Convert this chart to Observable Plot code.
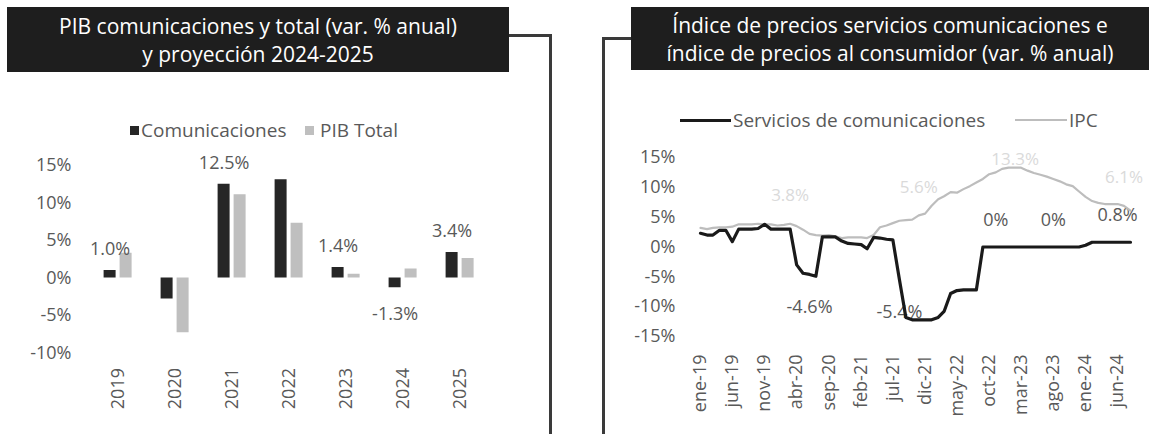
<!DOCTYPE html>
<html><head><meta charset="utf-8">
<script src="https://cdn.jsdelivr.net/npm/d3@7"></script>
<script src="https://cdn.jsdelivr.net/npm/@observablehq/plot@0.6"></script>
<style>
body{margin:0;background:#fff;font-family:"Open Sans",sans-serif;}
#root{position:relative;width:1149px;height:434px;overflow:hidden;background:#fff;}
.abs{position:absolute;}
.title{background:#1e1e1e;color:#fff;font-size:21px;line-height:28px;text-align:center;display:flex;flex-direction:column;justify-content:center;white-space:nowrap;}
.leg{position:absolute;color:#595959;font-size:19px;line-height:22px;white-space:nowrap;}
.sq{position:absolute;width:9px;height:9px;}
.ln{position:absolute;}
</style></head><body><div id="root"></div>
<script>
// ---------- Data: left chart ----------
const years = ["2019","2020","2021","2022","2023","2024","2025"];
const series = ["Comunicaciones","PIB Total"];
const comunicaciones = [1.0, -2.8, 12.5, 13.1, 1.4, -1.3, 3.4];
const pibTotal = [3.3, -7.3, 11.1, 7.3, 0.5, 1.2, 2.6];
const labeledYears = ["2019","2021","2023","2024","2025"];
const yTicksLeft = [-10, -5, 0, 5, 10, 15];

// ---------- Data: right chart ----------
const lineSeries = ["Servicios de comunicaciones","IPC"];
const servicios = [2.3, 2.0, 2.0, 2.8, 2.8, 0.9, 3.0, 3.0, 3.0, 3.1, 3.8, 3.0,
  3.0, 3.0, 3.0, -3.0, -4.4, -4.6, -4.9, 1.7, 1.7, 1.7, 1.0, 0.6,
  0.5, 0.4, -0.3, 1.6, 1.5, 1.3, 1.2, -5.4, -11.8, -12.2, -12.2, -12.2,
  -12.2, -11.8, -10.8, -7.8, -7.3, -7.2, -7.2, -7.2, 0, 0, 0, 0,
  0, 0, 0, 0, 0, 0, 0, 0, 0, 0, 0, 0,
  0.3, 0.8, 0.8, 0.8, 0.8, 0.8, 0.8, 0.8];
const ipc = [3.2, 3.0, 3.2, 3.3, 3.3, 3.4, 3.8, 3.8, 3.8, 3.9, 3.8, 3.8,
  3.6, 3.7, 3.9, 3.5, 2.9, 2.2, 2.0, 1.9, 2.0, 1.8, 1.5, 1.6,
  1.6, 1.6, 1.5, 2.0, 3.3, 3.6, 4.0, 4.4, 4.5, 4.6, 5.3, 5.6,
  6.9, 8.0, 8.5, 9.2, 9.1, 9.7, 10.2, 10.8, 11.4, 12.2, 12.5, 13.1,
  13.3, 13.3, 13.3, 12.8, 12.4, 12.1, 11.8, 11.4, 11.0, 10.5, 10.2, 9.3,
  8.4, 7.7, 7.4, 7.2, 7.2, 7.2, 6.9, 6.1];
const firstMonth = "ene-19";
const xTickLabels = ["ene-19","jun-19","nov-19","abr-20","sep-20","feb-21","jul-21","dic-21","may-22","oct-22","mar-23","ago-23","ene-24","jun-24"];
const yTicksRight = [-15, -10, -5, 0, 5, 10, 15];
const commLabelMonths = ["jun-20","ago-21","nov-22","ago-23","jun-24"];
const commLabelTexts = ["-4.6%","-5.4%","0%","0%","0.8%"];
const ipcLabelMonths = ["mar-20","nov-21","feb-23","jul-24"];
const ipcLabelTexts = ["3.8%","5.6%","13.3%","6.1%"];

const meses = ["ene","feb","mar","abr","may","jun","jul","ago","sep","oct","nov","dic"];
function parseMes(s){ const [m,y] = s.split("-"); return new Date(Date.UTC(2000+ +y, meses.indexOf(m), 1)); }
function fmtMes(d){ return meses[d.getUTCMonth()] + "-" + String(d.getUTCFullYear()).slice(2); }

const root = document.getElementById("root");
function add(html){ root.insertAdjacentHTML("beforeend", html); }

// ---------- Frames and titles ----------
add(`<div class="abs" style="left:509px;top:34px;width:40px;height:420px;border-top:3px solid #3a3a3a;border-right:3px solid #3a3a3a;"></div>`);
add(`<div class="abs" style="left:602px;top:37px;width:29px;height:420px;border-top:3px solid #3a3a3a;border-left:3px solid #3a3a3a;"></div>`);
add(`<div class="abs title" style="left:7px;top:7px;width:502px;height:65px;"><div>PIB comunicaciones y total (var. % anual)</div><div>y proyección 2024-2025</div></div>`);
add(`<div class="abs title" style="left:631px;top:7px;width:518px;height:63px;"><div>Índice de precios servicios comunicaciones e</div><div>índice de precios al consumidor (var. % anual)</div></div>`);

// ---------- Left legend ----------
add(`<div class="sq" style="left:130px;top:126px;background:#262626"></div>`);
add(`<div class="leg" style="left:141px;top:119px;">${series[0]}</div>`);
add(`<div class="sq" style="left:305px;top:126px;background:#bfbfbf"></div>`);
add(`<div class="leg" style="left:320px;top:119px;">${series[1]}</div>`);

// ---------- Right legend ----------
add(`<div class="ln" style="left:680px;top:119px;width:51px;height:3px;background:#1a1a1a"></div>`);
add(`<div class="leg" style="left:733px;top:109px;">${lineSeries[0]}</div>`);
add(`<div class="ln" style="left:1015px;top:119px;width:52px;height:2px;background:#bdbdbd"></div>`);
add(`<div class="leg" style="left:1069px;top:109px;">${lineSeries[1]}</div>`);

// ---------- Left chart ----------
const barData = years.flatMap((yr, i) => [
  {year: yr, serie: series[0], value: comunicaciones[i]},
  {year: yr, serie: series[1], value: pibTotal[i]}
]);
const labPos = barData.filter(d => d.serie === series[0] && labeledYears.includes(d.year) && d.value >= 0);
const labNeg = barData.filter(d => d.serie === series[0] && labeledYears.includes(d.year) && d.value < 0);
const W1 = 520;
const left = Plot.plot({
  width: W1, height: 268,
  marginTop: 15, marginBottom: 65.5, marginLeft: 75.4, marginRight: W1 - 502,
  style: {fontFamily: "Open Sans", fontSize: "17px", color: "#595959", background: "transparent", overflow: "visible"},
  fx: {domain: years, paddingInner: 0.475, paddingOuter: 0.475, label: null},
  x: {domain: series, paddingInner: 0.235, paddingOuter: 0, axis: null},
  y: {domain: [-10, 15], label: null, axis: null},
  color: {domain: series, range: ["#262626", "#bfbfbf"]},
  marks: [
    Plot.axisFx({anchor: "bottom", tickRotate: -90, tickSize: 0, tickPadding: 15, fontSize: 18, label: null, fill: "#595959"}),
    Plot.axisY({ticks: yTicksLeft, tickFormat: d => d + "%", tickSize: 0, tickPadding: 32, label: null, fill: "#595959", fontSize: 18}),
    Plot.barY(barData, {fx: "year", x: "serie", y: "value", fill: "serie"}),
    Plot.text(labPos, {fx: "year", x: "serie", y: "value", text: d => d.value.toFixed(1) + "%", dy: -21, fill: "#595959", fontSize: 18}),
    Plot.text(labNeg, {fx: "year", x: "serie", y: "value", text: d => d.value.toFixed(1) + "%", dy: 26, fill: "#595959", fontSize: 18})
  ]
});
left.style.position = "absolute"; left.style.left = "0px"; left.style.top = "150px";
root.appendChild(left);

// ---------- Right chart ----------
const start = parseMes(firstMonth);
const dates = servicios.map((_, i) => new Date(Date.UTC(start.getUTCFullYear(), start.getUTCMonth() + i, 1)));
const commData = dates.map((d, i) => ({date: d, value: servicios[i]}));
const ipcData = dates.map((d, i) => ({date: d, value: ipc[i]}));
const byKey = new Map(dates.map((d, i) => [fmtMes(d), i]));
const commLab = commLabelMonths.map((m, k) => ({date: parseMes(m), value: servicios[byKey.get(m)], text: commLabelTexts[k]}));
const ipcLab = ipcLabelMonths.map((m, k) => ({date: parseMes(m), value: ipc[byKey.get(m)], text: ipcLabelTexts[k]}));
const W2 = 549;
const right = Plot.plot({
  width: W2, height: 284,
  marginTop: 20, marginBottom: 85, marginLeft: 100, marginRight: 19,
  style: {fontFamily: "Open Sans", fontSize: "17px", color: "#595959", background: "transparent", overflow: "visible"},
  x: {type: "utc", domain: [dates[0], dates[dates.length - 1]]},
  y: {domain: [-15, 15]},
  marks: [
    Plot.axisX({ticks: xTickLabels.map(parseMes), tickFormat: fmtMes, tickRotate: -90, tickSize: 0, tickPadding: 18, fontSize: 18, label: null, fill: "#595959"}),
    Plot.axisY({ticks: yTicksRight, tickFormat: d => d + "%", tickSize: 0, tickPadding: 25, label: null, fill: "#595959", fontSize: 18}),
    Plot.text(ipcLab.filter(d => d.value < 13), {x: "date", y: "value", text: "text", dy: -28, fill: "#dadada", fontSize: 17}),
    Plot.text(ipcLab.filter(d => d.value >= 13), {x: "date", y: "value", text: "text", dy: -8, fill: "#dadada", fontSize: 17}),
    Plot.text(commLab.filter(d => d.value >= 0), {x: "date", y: "value", text: "text", dy: -27, fill: "#595959", fontSize: 18}),
    Plot.text(commLab.filter(d => d.value < 0), {x: "date", y: "value", text: "text", dy: 33, fill: "#595959", fontSize: 18}),
    Plot.line(ipcData, {x: "date", y: "value", stroke: "#bdbdbd", strokeWidth: 2.2}),
    Plot.line(commData, {x: "date", y: "value", stroke: "#1a1a1a", strokeWidth: 3.2})
  ]
});
right.style.position = "absolute"; right.style.left = "600px"; right.style.top = "137px";
root.appendChild(right);
</script></body></html>
